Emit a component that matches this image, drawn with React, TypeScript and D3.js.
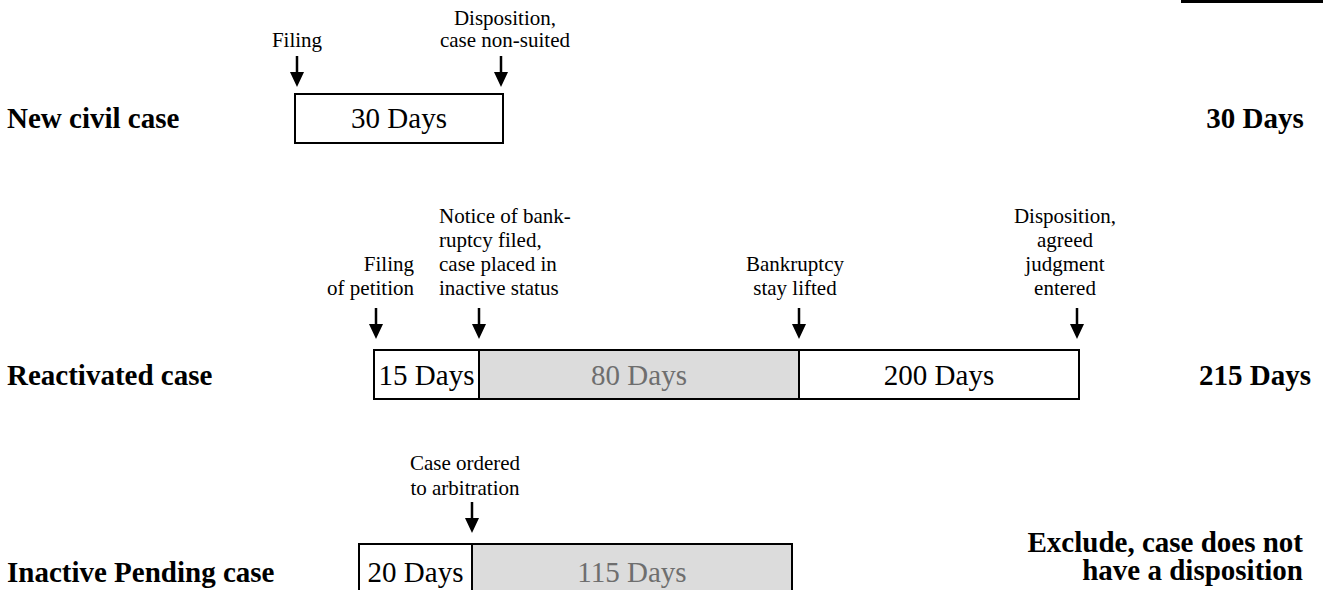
import React from 'react';
import * as d3 from 'd3';

// row titles and totals on the right
const rowNames = ['New civil case', 'Reactivated case', 'Inactive Pending case'];
const rowTotals = [['30 Days'], ['215 Days'], ['Exclude, case does not', 'have a disposition']];

// segment lengths (days) per row and whether the segment is inactive time
const newCaseDays = [30];
const newCaseInactive = [false];
const reactivatedDays = [15, 80, 200];
const reactivatedInactive = [false, true, false];
const pendingDays = [20, 115];
const pendingInactive = [false, true];

// events: day on the timeline + label lines
const newCaseEventDays = [0, 30];
const newCaseEventLabels = [['Filing'], ['Disposition,', 'case non-suited']];
const reactivatedEventDays = [0, 15, 95, 295];
const reactivatedEventLabels = [
  ['Filing', 'of petition'],
  ['Notice of bank-', 'ruptcy filed,', 'case placed in', 'inactive status'],
  ['Bankruptcy', 'stay lifted'],
  ['Disposition,', 'agreed', 'judgment', 'entered'],
];
const pendingEventDays = [20];
const pendingEventLabels = [['Case ordered', 'to arbitration']];

const rowSegments = [
  { days: newCaseDays, inactive: newCaseInactive, evDays: newCaseEventDays, evLabels: newCaseEventLabels },
  { days: reactivatedDays, inactive: reactivatedInactive, evDays: reactivatedEventDays, evLabels: reactivatedEventLabels },
  { days: pendingDays, inactive: pendingInactive, evDays: pendingEventDays, evLabels: pendingEventLabels },
];

// schematic layout (the boxes are not drawn to scale in the original)
const layout = [
  {
    top: 94, baseline: 128, stops: [295, 503], tipGap: 7, lineGap: 22, labelBase: 47,
    place: [{ anchor: 'middle', dx: 0 }, { anchor: 'middle', dx: 4 }],
    total: { x: 1255, anchor: 'middle', y: 128 },
  },
  {
    top: 350, baseline: 385, stops: [374, 479, 799, 1079], tipGap: 11, lineGap: 24, labelBase: 295,
    place: [
      { anchor: 'end', dx: 38 },
      { anchor: 'start', dx: -40 },
      { anchor: 'middle', dx: -4 },
      { anchor: 'middle', dx: -12 },
    ],
    total: { x: 1255, anchor: 'middle', y: 385 },
  },
  {
    top: 544, baseline: 582, stops: [359, 472, 792], tipGap: 11, lineGap: 25, labelBase: 495,
    place: [{ anchor: 'middle', dx: -7 }],
    total: { x: 1303, anchor: 'end', y: 552 },
  },
];

const W = 1323;
const H = 590;
const BOX_H = 49;
const FONT = '"Liberation Serif", "Times New Roman", serif';

const App: React.FC = () => {
  return (
    <svg width={W} height={H} style={{ position: 'absolute', left: 0, top: 0, display: 'block', background: '#fff' }}>
      <rect x={1181} y={0} width={W - 1181} height={3} fill="#000" />
      {rowSegments.map((row, ri) => {
        const L = layout[ri];
        const cum = [0, ...d3.cumsum(row.days)];
        const x = d3.scaleLinear().domain(cum).range(L.stops);
        const maxDay = cum[cum.length - 1];
        return (
          <g key={ri} fontFamily={FONT}>
            <text x={7} y={L.baseline} fontSize={29} fontWeight="bold" fill="#000">
              {rowNames[ri]}
            </text>
            {row.days.map((d, si) => {
              const x0 = x(cum[si]);
              const x1 = x(cum[si + 1]);
              return (
                <g key={si}>
                  <rect
                    x={x0}
                    y={L.top}
                    width={x1 - x0}
                    height={BOX_H}
                    fill={row.inactive[si] ? '#dcdcdc' : '#fff'}
                    stroke="#000"
                    strokeWidth={2}
                  />
                  <text
                    x={(x0 + x1) / 2}
                    y={L.baseline}
                    textAnchor="middle"
                    fontSize={29}
                    fill={row.inactive[si] ? '#6e6e6e' : '#000'}
                  >
                    {`${d} Days`}
                  </text>
                </g>
              );
            })}
            {row.evDays.map((day, ei) => {
              const inset = day === 0 ? 2 : day === maxDay ? -2 : 0;
              const ax = x(day) + inset;
              const tip = L.top - L.tipGap;
              const lines = row.evLabels[ei];
              const p = L.place[ei];
              return (
                <g key={`e${ei}`}>
                  <line x1={ax} x2={ax} y1={tip - 31} y2={tip - 12} stroke="#000" strokeWidth={2.5} />
                  <path d={`M${ax - 7},${tip - 15}L${ax + 7},${tip - 15}L${ax},${tip}Z`} fill="#000" />
                  {lines.map((ln, li) => (
                    <text
                      key={li}
                      x={ax + p.dx}
                      y={L.labelBase - (lines.length - 1 - li) * L.lineGap}
                      textAnchor={p.anchor}
                      fontSize={21}
                      fill="#000"
                    >
                      {ln}
                    </text>
                  ))}
                </g>
              );
            })}
            {rowTotals[ri].map((t, ti) => (
              <text
                key={`t${ti}`}
                x={L.total.x}
                y={L.total.y + ti * 28}
                textAnchor={L.total.anchor}
                fontSize={29}
                fontWeight="bold"
                fill="#000"
              >
                {t}
              </text>
            ))}
          </g>
        );
      })}
    </svg>
  );
};

export default App;
